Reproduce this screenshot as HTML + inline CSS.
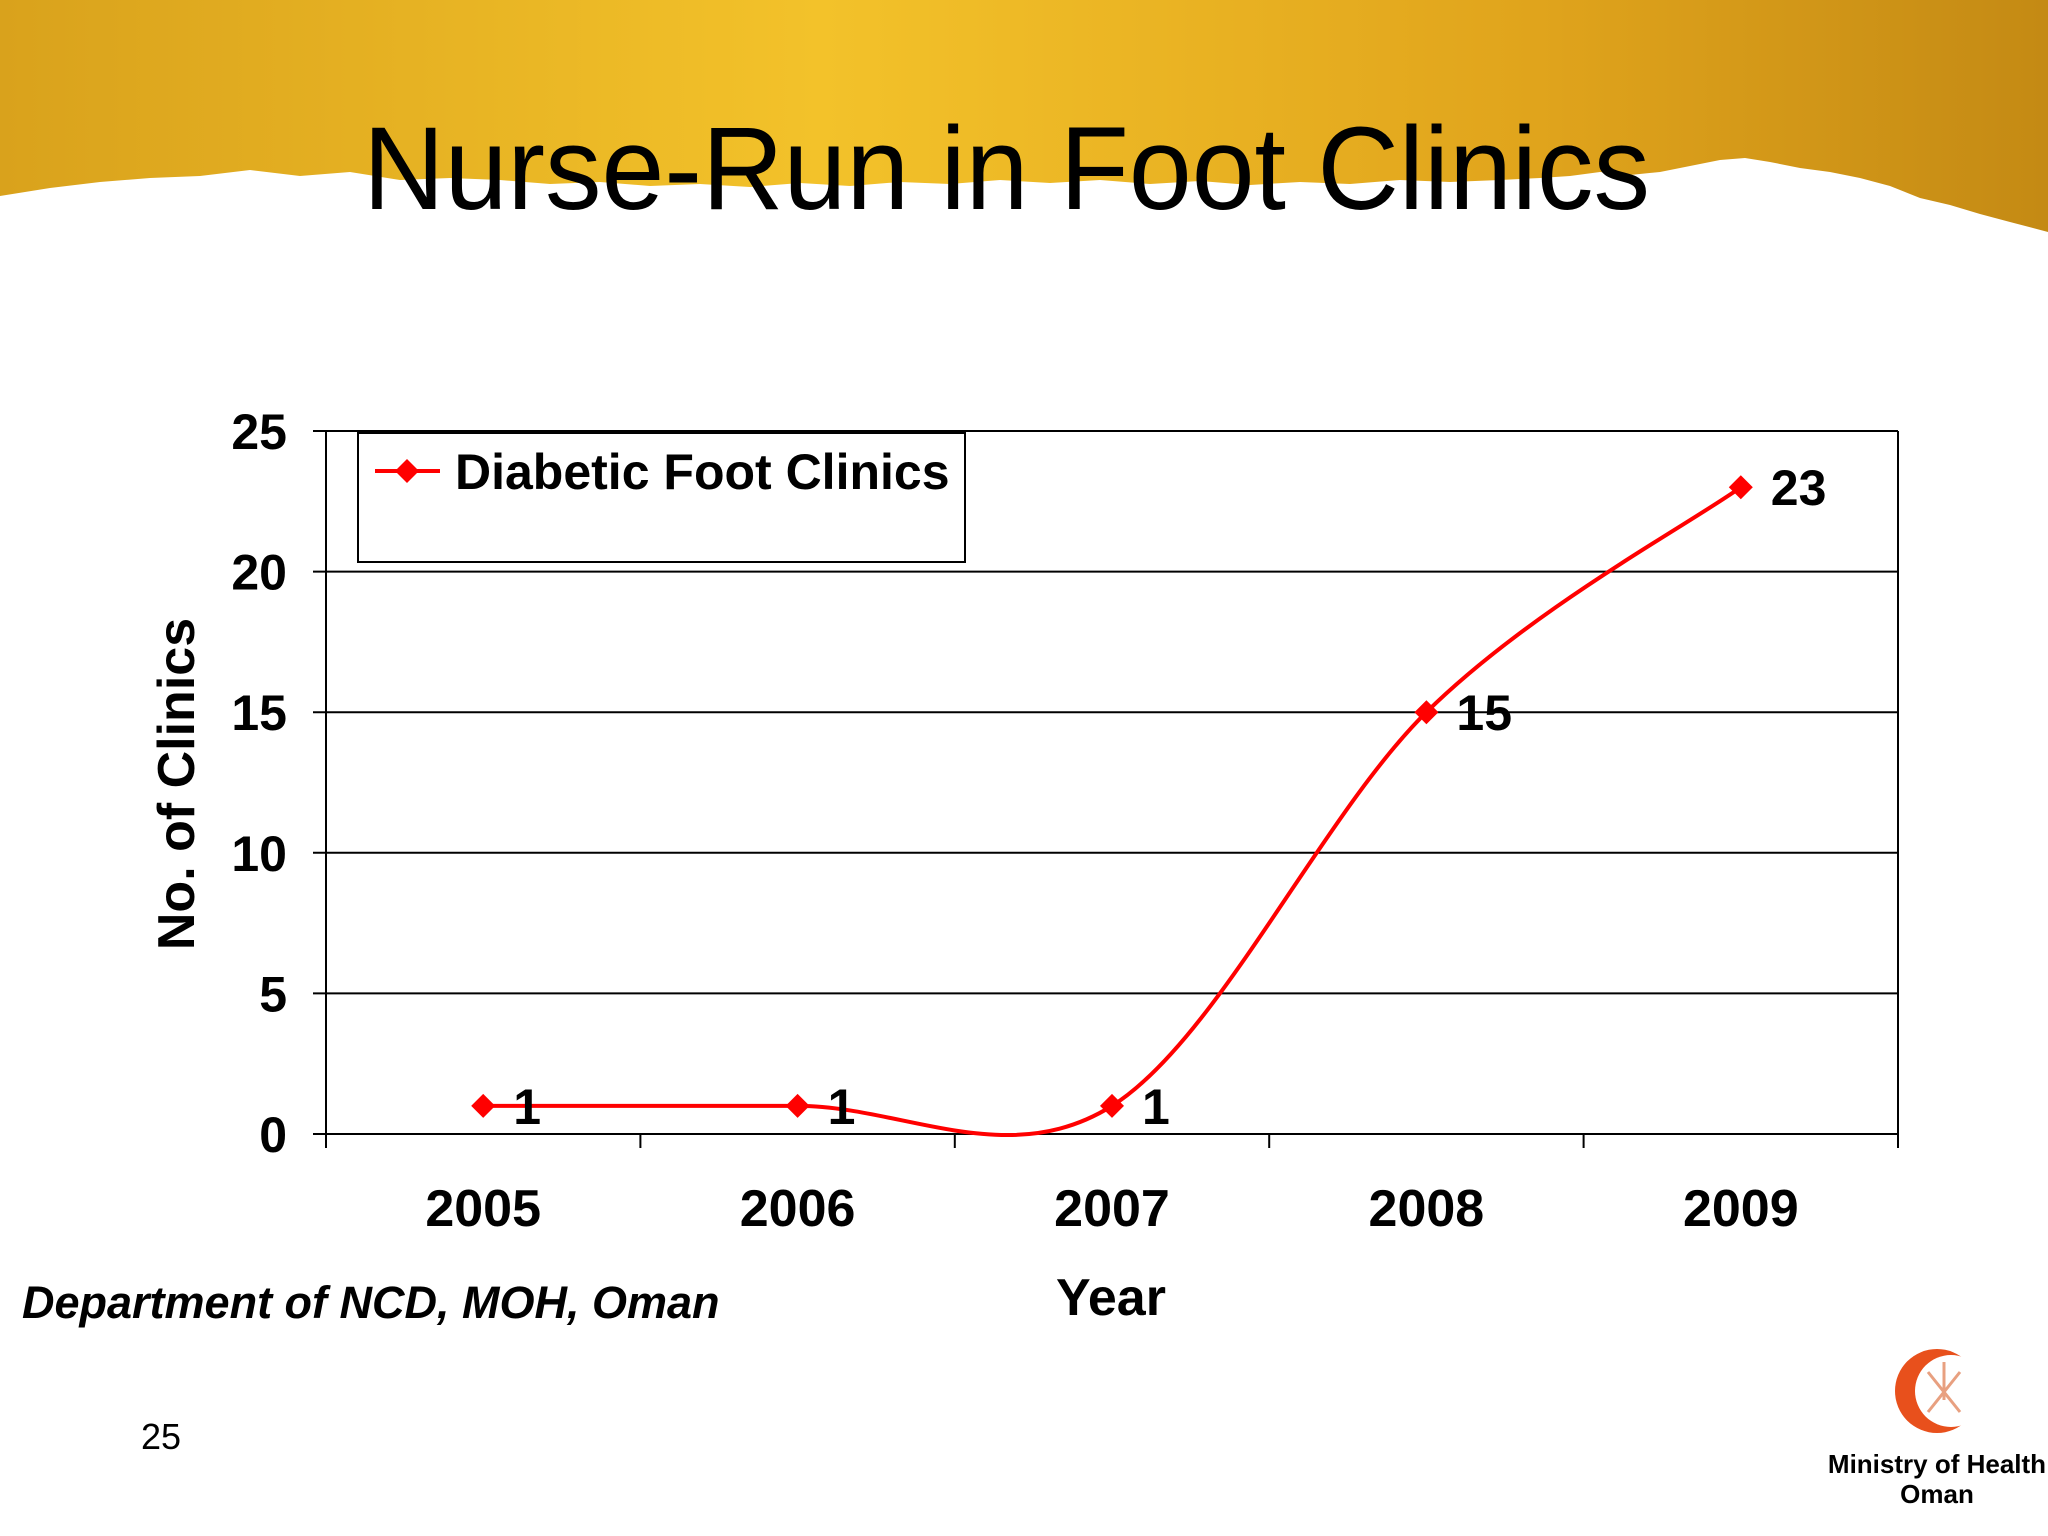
<!DOCTYPE html>
<html><head><meta charset="utf-8"><style>
html,body{margin:0;padding:0;background:#fff}
svg{display:block;font-family:"Liberation Sans",Arial,sans-serif}
</style></head><body>
<svg width="2048" height="1536" viewBox="0 0 2048 1536">
<defs>
<linearGradient id="gold" x1="0" y1="0" x2="1" y2="0">
<stop offset="0" stop-color="#d9a21c"/><stop offset="0.4" stop-color="#f3c22a"/><stop offset="0.75" stop-color="#e0a41c"/><stop offset="1" stop-color="#c48a14"/>
</linearGradient>
</defs>
<polygon fill="url(#gold)" points="0,0 2048,0 2048,232 2010,222 1980,214 1950,205 1920,198 1890,186 1860,178 1830,172 1800,168 1770,162 1745,158 1720,160 1690,166 1660,172 1630,175 1600,172 1570,176 1540,178 1500,180 1450,182 1400,180 1350,184 1300,182 1250,185 1200,181 1150,184 1100,180 1050,183 1000,180 950,184 900,182 850,186 800,183 750,187 700,184 650,186 600,182 550,184 500,180 450,178 400,180 350,172 300,176 250,170 200,176 150,178 100,182 50,188 0,196"/>
<text x="363" y="209" font-size="118" textLength="1287" lengthAdjust="spacingAndGlyphs" fill="#000">Nurse-Run in Foot Clinics</text>
<g id="chart"></g>
<text transform="translate(194,784) rotate(-90)" text-anchor="middle" font-size="52" font-weight="bold">No. of Clinics</text>
<text x="1111" y="1315" text-anchor="middle" font-size="52" font-weight="bold">Year</text>
<text x="22" y="1318" font-size="45" font-weight="bold" font-style="italic">Department of NCD, MOH, Oman</text>
<text x="141" y="1449" font-size="36">25</text>
<g>
<circle cx="1937" cy="1391" r="42" fill="#e8501c"/>
<circle cx="1951" cy="1391" r="36" fill="#fff"/>
<path d="M1928,1372 L1960,1412 M1960,1372 L1928,1412 M1944,1362 L1944,1400" stroke="#e8a080" stroke-width="3" fill="none"/>
<text x="1937" y="1473" text-anchor="middle" font-size="26" font-weight="bold">Ministry of Health</text>
<text x="1937" y="1503" text-anchor="middle" font-size="26" font-weight="bold">Oman</text>
</g>
</svg>
<script>
const categories = ["2005","2006","2007","2008","2009"];
const seriesValues = [1,1,1,15,23];
const yTicks = [0,5,10,15,20,25];
const seriesName = "Diabetic Foot Clinics";
const NS="http://www.w3.org/2000/svg";
const L=326,R=1898,T=431,B=1134,yMax=25;
const g=document.getElementById('chart');
const step=(R-L)/categories.length;
const xS=i=>L+step*(i+0.5);
const yS=v=>B-(v/yMax)*(B-T);
function mk(tag,attrs,parent){const e=document.createElementNS(NS,tag);for(const k in attrs)e.setAttribute(k,attrs[k]);(parent||g).appendChild(e);return e;}
yTicks.forEach(v=>{
 const ln=mk('line',{x1:L-13,x2:v>0?R:L,y1:yS(v),y2:yS(v),stroke:'#000','stroke-width':2});
 
 
 const t=mk('text',{x:287,y:yS(v)+18,'text-anchor':'end','font-size':50,'font-weight':'bold'});
 
 
 t.textContent=v;
});
const ax=mk('path',{d:`M${L},${T}V${B}H${R}V${T}`,fill:'none',stroke:'#000','stroke-width':2});


for(let i=0;i<=categories.length;i++){
 const tk=mk('line',{x1:L+step*i,x2:L+step*i,y1:B,y2:B+14,stroke:'#000','stroke-width':2});
 
 
}
categories.forEach((c,i)=>{
 const t=mk('text',{x:xS(i),y:1226,'text-anchor':'middle','font-size':52,'font-weight':'bold'});
 
 
 t.textContent=c;
});
const pts=seriesValues.map((v,i)=>[xS(i),yS(v)]);
let d=`M${pts[0][0]},${pts[0][1]}`;
for(let i=0;i<pts.length-1;i++){
 const p0=pts[Math.max(0,i-1)],p1=pts[i],p2=pts[i+1],p3=pts[Math.min(pts.length-1,i+2)];
 const c1=[p1[0]+(p2[0]-p0[0])/6,p1[1]+(p2[1]-p0[1])/6];
 const c2=[p2[0]-(p3[0]-p1[0])/6,p2[1]-(p3[1]-p1[1])/6];
 d+=`C${c1[0]},${c1[1]} ${c2[0]},${c2[1]} ${p2[0]},${p2[1]}`;
}
const line=mk('path',{d,fill:'none',stroke:'#ff0000','stroke-width':4});


function diamond(x,y,s){return `${x},${y-s} ${x+s},${y} ${x},${y+s} ${x-s},${y}`;}
pts.forEach((p,i)=>{
 const m=mk('polygon',{points:diamond(p[0],p[1],12),fill:'#ff0000'});
 
 
 const t=mk('text',{x:p[0]+30,y:p[1]+18,'font-size':50,'font-weight':'bold'});
 
 
 t.textContent=seriesValues[i];
});
const lg=mk('g',{});


mk('rect',{x:358,y:433,width:607,height:129,fill:'#fff',stroke:'#000','stroke-width':2},lg);
mk('line',{x1:375,x2:440,y1:471,y2:471,stroke:'#ff0000','stroke-width':4},lg);
mk('polygon',{points:diamond(407,471,12),fill:'#ff0000'},lg);
const lt=mk('text',{x:455,y:489,'font-size':50,'font-weight':'bold'},lg);


lt.textContent=seriesName;
</script>
</body></html>
